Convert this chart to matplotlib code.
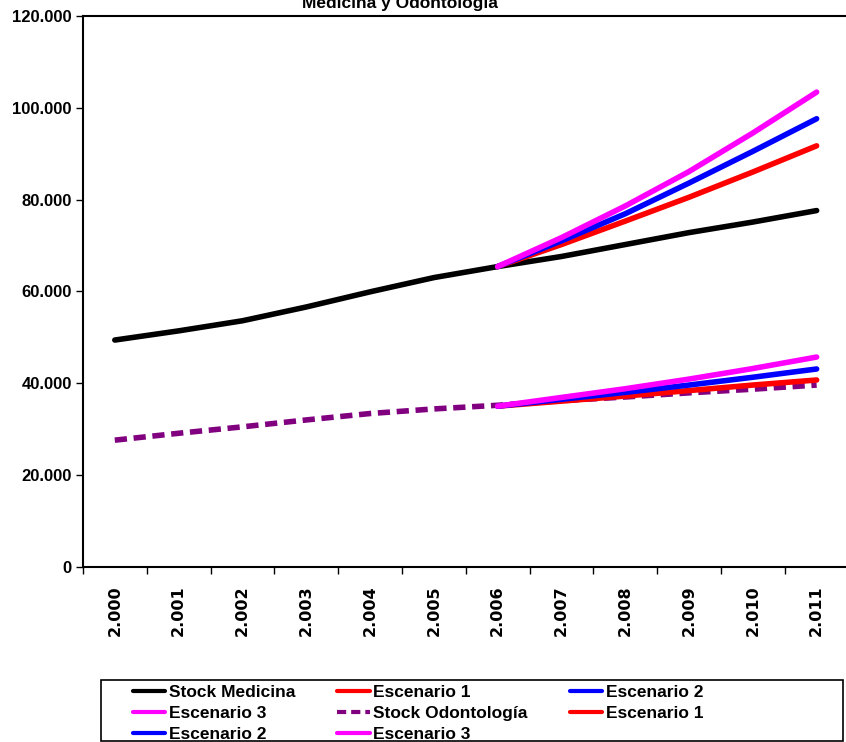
import numpy as np
import matplotlib
matplotlib.use('Agg')
import matplotlib.pyplot as plt
from matplotlib.patches import Rectangle
from matplotlib.ticker import FuncFormatter, FixedLocator

plt.rcParams['font.family'] = ['Liberation Sans', 'DejaVu Sans']

anios = ['2.000', '2.001', '2.002', '2.003', '2.004', '2.005',
         '2.006', '2.007', '2.008', '2.009', '2.010', '2.011']

stock_medicina = [49400, 51400, 53600, 56600, 59900, 63000,
                  65400, 67600, 70200, 72800, 75100, 77600]
med_esc1 = [65400, 70200, 75300, 80500, 86000, 91700]
med_esc2 = [65400, 71000, 76900, 83600, 90500, 97600]
med_esc3 = [65400, 71700, 78600, 86100, 94500, 103400]

stock_odonto = [27600, 29100, 30500, 32000, 33400, 34400,
                35200, 36200, 37000, 37900, 38700, 39600]
odo_esc1 = [35000, 36100, 37200, 38400, 39600, 40700]
odo_esc2 = [35000, 36500, 38000, 39600, 41300, 43100]
odo_esc3 = [35000, 36900, 38800, 40900, 43200, 45700]

x = np.arange(len(anios))
xs = x[6:]

fig = plt.figure(figsize=(8.46, 7.42), dpi=100)
ax = fig.add_axes([0.098, 0.236, 0.905, 0.7426])

lw = 4
h_sm, = ax.plot(x, stock_medicina, color='black', lw=lw, solid_capstyle='round', label='Stock Medicina')
h_m1, = ax.plot(xs, med_esc1, color='#ff0000', lw=lw, solid_capstyle='round', label='Escenario 1')
h_m2, = ax.plot(xs, med_esc2, color='#0000ff', lw=lw, solid_capstyle='round', label='Escenario 2')
h_m3, = ax.plot(xs, med_esc3, color='#ff00ff', lw=lw, solid_capstyle='round', label='Escenario 3')
h_so, = ax.plot(x, stock_odonto, color='#800080', lw=lw, ls=(0, (2.2, 1.2)), label='Stock Odontología')
h_o1, = ax.plot(xs, odo_esc1, color='#ff0000', lw=lw, solid_capstyle='round', label='Escenario 1')
h_o2, = ax.plot(xs, odo_esc2, color='#0000ff', lw=lw, solid_capstyle='round', label='Escenario 2')
h_o3, = ax.plot(xs, odo_esc3, color='#ff00ff', lw=lw, solid_capstyle='round', label='Escenario 3')

ax.set_xlim(-0.5, 11.5)
ax.set_ylim(0, 120000)
ax.set_yticks(np.arange(0, 120001, 20000))
ax.yaxis.set_major_formatter(FuncFormatter(lambda v, p: '0' if v == 0 else f'{int(v):,}'.replace(',', '.')))
for lab in ax.get_yticklabels():
    lab.set_fontweight('bold')
    lab.set_fontsize(12)

ax.xaxis.set_major_locator(FixedLocator(np.arange(-0.5, 11.6, 1)))
ax.xaxis.set_major_formatter(FuncFormatter(lambda v, p: ''))
ax.set_xticks(x, minor=True)
ax.set_xticklabels(anios, minor=True, rotation=90, fontweight='bold',
                   fontsize=11.5, family='DejaVu Sans')
ax.tick_params(axis='x', which='minor', length=0, pad=13)
ax.tick_params(axis='both', which='major', direction='out', length=5, width=1)
ax.tick_params(axis='y', pad=3)
for s in ax.spines.values():
    s.set_linewidth(1.5)

fig.text(0.473, 1 - 8 / 742, 'Medicina y Odontología', ha='center', va='baseline',
         fontsize=12.5, fontweight='bold')

# marco de la leyenda
fig.patches.append(Rectangle((101 / 846, 1 - 741 / 742), 742 / 846, 61 / 742,
                             transform=fig.transFigure, fill=False,
                             edgecolor='black', lw=1.2))

handles = [h_sm, h_m3, h_o2, h_m1, h_so, h_o3, h_m2, h_o1]
leg = fig.legend(handles=handles, labels=[h.get_label() for h in handles],
                 ncol=3, loc='upper left',
                 bbox_to_anchor=(133 / 846, 1 - 686 / 742, 570 / 846, 0.001),
                 mode='expand', frameon=False, borderpad=0, borderaxespad=0,
                 handlelength=1.85, handletextpad=0.2, labelspacing=0.32,
                 prop={'weight': 'bold', 'size': 12.5})
for l in leg.get_lines():
    l.set_linewidth(3)

fig.savefig('out.png', dpi=100)
